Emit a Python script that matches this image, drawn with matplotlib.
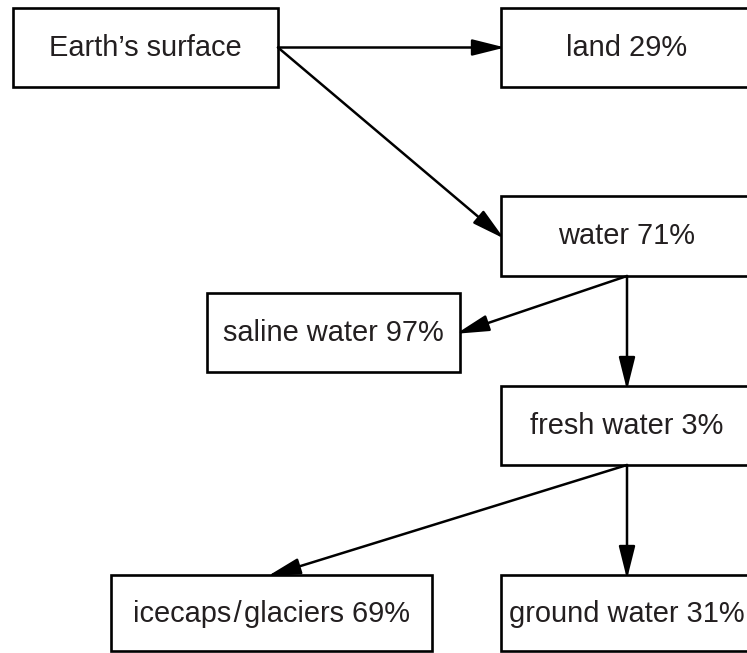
import matplotlib
matplotlib.use("Agg")
import matplotlib.pyplot as plt
import numpy as np
from matplotlib.patches import Rectangle, FancyArrowPatch

# Node labels
node_ids = ["earth", "land", "water", "saline", "fresh", "icecaps", "ground"]
node_labels = ["Earth\u2019s surface", "land 29%", "water 71%", "saline water 97%",
               "fresh water 3%", "icecaps\u200a/\u200aglaciers 69%", "ground water 31%"]

# Edges (source, target, source anchor, target anchor)
edges = [
    ("earth", "land", "right", "left"),
    ("earth", "water", "right", "left"),
    ("water", "saline", "bottom", "right"),
    ("water", "fresh", "bottom", "top"),
    ("fresh", "icecaps", "bottom", "top"),
    ("fresh", "ground", "bottom", "top"),
]

# Layout (pixel coordinates: x0, y0, x1, y1)
layout = {
    "earth": (13, 8, 278, 87),
    "land": (501, 8, 753, 87),
    "water": (501, 196, 753, 276),
    "saline": (207, 293, 460, 372),
    "fresh": (501, 386, 753, 465),
    "icecaps": (111, 575, 432, 651),
    "ground": (501, 575, 753, 651),
}

W, H = 747, 653
fig = plt.figure(figsize=(W / 100, H / 100), dpi=100)
ax = fig.add_axes([0, 0, 1, 1])
ax.set_xlim(0, W)
ax.set_ylim(H, 0)
ax.axis("off")

text_color = "#231f20"
for nid, lab in zip(node_ids, node_labels):
    x0, y0, x1, y1 = layout[nid]
    ax.add_patch(Rectangle((x0, y0), x1 - x0, y1 - y0, facecolor="white",
                           edgecolor="black", linewidth=1.9, zorder=2))
    ax.text((x0 + x1) / 2, (y0 + y1) / 2 + 0.5, lab, ha="center", va="center",
            fontsize=20.9, color=text_color,
            family=["Liberation Sans", "DejaVu Sans"], zorder=3)


def anchor(nid, side):
    x0, y0, x1, y1 = layout[nid]
    cx, cy = (x0 + x1) / 2, (y0 + y1) / 2
    return {"right": (x1, cy), "left": (x0, cy),
            "top": (cx, y0), "bottom": (cx, y1)}[side]


extend = 4.0
for s, t, sa, ta in edges:
    p0 = np.array(anchor(s, sa), dtype=float)
    p1 = np.array(anchor(t, ta), dtype=float)
    d = (p1 - p0) / np.hypot(*(p1 - p0))
    p1 = p1 + d * extend
    arr = FancyArrowPatch(tuple(p0), tuple(p1),
                          arrowstyle="-|>,head_length=20,head_width=5",
                          mutation_scale=1, shrinkA=0, shrinkB=0,
                          color="black", linewidth=1.8, zorder=4)
    ax.add_patch(arr)

fig.savefig("out.png", dpi=100)
